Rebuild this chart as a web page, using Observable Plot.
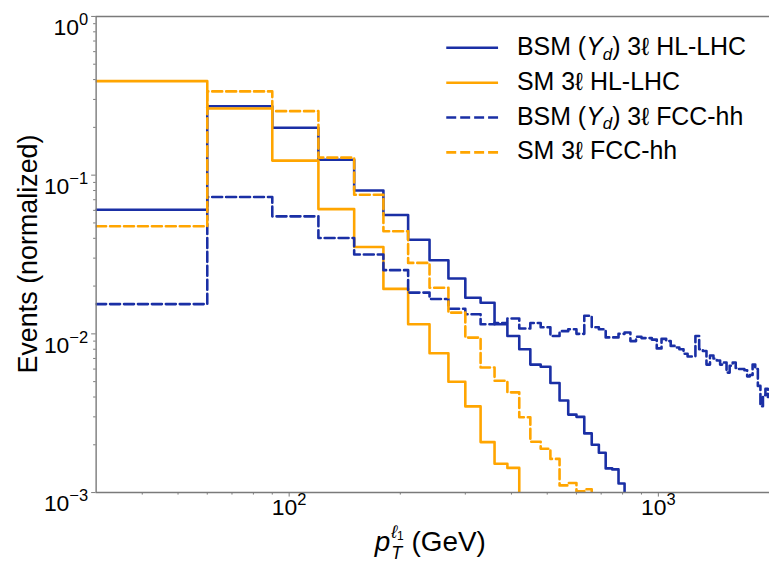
<!DOCTYPE html>
<html>
<head>
<meta charset="utf-8">
<script src="https://cdn.jsdelivr.net/npm/d3@7"></script>
<script src="https://cdn.jsdelivr.net/npm/@observablehq/plot@0.6"></script>
<style>
  html, body { margin: 0; padding: 0; background: #fff; overflow: hidden; }
  #wrap { position: relative; width: 769px; height: 565px; overflow: hidden; }
</style>
</head>
<body>
<div id="wrap"></div>
<script>
// Histogram bins: 30 GeV wide, starting at 30 GeV (bin starts + final edge)
const binEdges = d3.range(30, 2011, 30);

// Normalized event fractions per bin
const bsmHLLHC = [0.0605, 0.272, 0.199, 0.125, 0.080, 0.0561, 0.0392, 0.0291, 0.0223, 0.0169,
  0.0157, 0.0115, 0.0097, 0.0080, 0.0064, 0.0062, 0.0049, 0.0038, 0.0031, 0.0030,
  0.00236, 0.00200, 0.00178, 0.00142, 0.00140, 0.00114, 0.0004];
const smHLLHC = [0.391, 0.263, 0.1235, 0.0611, 0.0353, 0.0192, 0.0115, 0.00755, 0.00499, 0.00349,
  0.00208, 0.00152, 0.00143, 0.0004];
const bsmFCChh = [0.0154, 0.0728, 0.0550, 0.0402, 0.0316, 0.0252, 0.0182, 0.0166, 0.0144, 0.0133,
  0.0115, 0.0117, 0.0125, 0.0108, 0.0117, 0.0110, 0.0097, 0.0104, 0.0107, 0.0100,
  0.0130, 0.0110, 0.0107, 0.0095, 0.0095, 0.0100, 0.0102, 0.0090, 0.0096, 0.0094,
  0.0094, 0.0092, 0.0081, 0.0093, 0.0090, 0.0084, 0.0082, 0.0080, 0.0075, 0.0072,
  0.0072, 0.0097, 0.0080, 0.0078, 0.0064, 0.0073, 0.0070, 0.0068, 0.0064, 0.0066,
  0.0057, 0.0063, 0.0066, 0.0061, 0.0060, 0.0060, 0.0059, 0.0054, 0.0055, 0.0064,
  0.0060, 0.0047, 0.0035, 0.0041, 0.0045, 0.0040];
const smFCChh = [0.0476, 0.337, 0.253, 0.129, 0.0752, 0.0443, 0.0280, 0.0195, 0.0136, 0.00947,
  0.00614, 0.00506, 0.00428, 0.00298, 0.00209, 0.00189, 0.00163, 0.00111, 0.00115, 0.00102,
  0.00105, 0.0004];

const seriesValues = [bsmHLLHC, smHLLHC, bsmFCChh, smFCChh];
const seriesColors = ["#1a2fa5", "#ffa500", "#1a2fa5", "#ffa500"];
const seriesDashes = [null, null, "10,4", "10,4"];
const seriesLabelParts = [
  ["BSM (", ["Y", "i"], ["d", "sub"], ") 3ℓ HL-LHC"],
  ["SM 3ℓ HL-LHC"],
  ["BSM (", ["Y", "i"], ["d", "sub"], ") 3ℓ FCC-hh"],
  ["SM 3ℓ FCC-hh"]
];

// Axis ticks
const xMajorTicks = [100, 1000];
const xMinorTicks = [40, 50, 60, 70, 80, 90, 200, 300, 400, 500, 600, 700, 800, 900, 2000];
const yMajorTicks = [1e-3, 1e-2, 1e-1, 1];
const yMinorTicks = [2e-3, 3e-3, 4e-3, 5e-3, 6e-3, 7e-3, 8e-3, 9e-3,
  2e-2, 3e-2, 4e-2, 5e-2, 6e-2, 7e-2, 8e-2, 9e-2,
  2e-1, 3e-1, 4e-1, 5e-1, 6e-1, 7e-1, 8e-1, 9e-1];

function toSteps(vals) {
  const pts = vals.map((v, i) => ({x: binEdges[i], y: v}));
  pts.push({x: binEdges[vals.length], y: vals[vals.length - 1]});
  return pts;
}

const spine = "#7a7a7a";
const lineMarks = seriesValues.map((vals, i) =>
  Plot.line(toSteps(vals), {
    x: "x", y: "y", curve: "step-after",
    stroke: seriesColors[i], strokeWidth: 2.6,
    strokeDasharray: seriesDashes[i] || undefined,
    clip: true
  })
);

const chart = Plot.plot({
  width: 772,
  height: 565,
  marginLeft: 96,
  marginRight: 0,
  marginTop: 16,
  marginBottom: 71,
  style: {fontFamily: "'Liberation Sans', Arial, Helvetica, sans-serif", fontSize: "23px", background: "white", color: "#000"},
  x: {type: "log", domain: [30, 2000]},
  y: {type: "log", domain: [1e-3, 1]},
  marks: [
    ...lineMarks,
    Plot.ruleX([30], {stroke: spine, strokeWidth: 1.4}),
    Plot.ruleY([1e-3], {stroke: spine, strokeWidth: 1.4}),
    Plot.ruleY([1], {stroke: spine, strokeWidth: 1.4}),
    Plot.axisX(xMajorTicks, {tickSize: 4.5, tickPadding: 2, stroke: spine, fill: "#000",
      tickFormat: d => "X10^" + Math.round(Math.log10(d)), label: null, fontSize: 23}),
    Plot.axisX(xMinorTicks, {tickSize: 2.5, stroke: spine, tickFormat: () => "", label: null}),
    Plot.axisY(yMajorTicks, {tickSize: 4.5, tickPadding: 3.5, stroke: spine, fill: "#000",
      tickFormat: d => "Y10^" + Math.round(Math.log10(d)), label: null, fontSize: 23}),
    Plot.axisY(yMinorTicks, {tickSize: 2.5, stroke: spine, tickFormat: () => "", label: null})
  ]
});

const svg = d3.select(chart.tagName.toLowerCase() === "svg" ? chart : chart.querySelector("svg"));

// Superscript tick labels (10^n)
svg.selectAll("text").each(function () {
  const m = /^([XY])10\^(-?\d+)$/.exec(this.textContent);
  if (!m) return;
  const t = d3.select(this);
  t.text(null);
  t.append("tspan").text("10");
  t.append("tspan").attr("dy", "-0.6em").attr("font-size", "0.72em").text(m[2].replace("-", "\u2212"));
  if (m[1] === "Y") t.attr("dy", "0.5em");
});

const xs = chart.scale("x");
const ys = chart.scale("y");
const xMid = (xs.range[0] + xs.range[1]) / 2;
const yMid = (ys.range[0] + ys.range[1]) / 2;

// X axis label: p_T^{l1} (GeV)
const xl = svg.append("text")
  .attr("x", xMid - 2).attr("y", 553)
  .attr("text-anchor", "middle")
  .attr("font-size", 28)
  .attr("fill", "#000");
xl.append("tspan").attr("font-style", "italic").text("p");
xl.append("tspan").attr("font-style", "italic").attr("font-size", 18).attr("dy", 8).attr("dx", 1).text("T");
xl.append("tspan").attr("font-style", "italic").attr("font-size", 18).attr("dy", -21).attr("dx", -11).text("ℓ");
xl.append("tspan").attr("font-size", 12).attr("dy", 2).text("1");
xl.append("tspan").attr("dy", 11).text(" (GeV)");

// Y axis label
svg.append("text")
  .attr("transform", `translate(37,${yMid}) rotate(-90)`)
  .attr("text-anchor", "middle")
  .attr("font-size", 27)
  .attr("fill", "#000")
  .text("Events (normalized)");

// Legend (upper right, no frame)
const legend = svg.append("g").attr("font-size", 25).attr("text-anchor", "start");
seriesLabelParts.forEach((parts, i) => {
  const cy = 48 + i * 35;
  legend.append("line")
    .attr("x1", 448).attr("x2", 500).attr("y1", cy).attr("y2", cy)
    .attr("stroke", seriesColors[i]).attr("stroke-width", 2.6)
    .attr("stroke-dasharray", seriesDashes[i]);
  const t = legend.append("text").attr("x", 519).attr("y", cy + 7)
    .attr("text-anchor", "start").attr("fill", "#000");
  let sub = false;
  parts.forEach(p => {
    if (typeof p === "string") {
      const ts = t.append("tspan").text(p);
      if (sub) { ts.attr("dy", -5); sub = false; }
    } else if (p[1] === "i") {
      t.append("tspan").attr("font-style", "italic").text(p[0]);
    } else if (p[1] === "sub") {
      t.append("tspan").attr("font-style", "italic").attr("font-size", 17).attr("dy", 5).text(p[0]);
      sub = true;
    }
  });
});

document.getElementById("wrap").appendChild(chart);
</script>
</body>
</html>
